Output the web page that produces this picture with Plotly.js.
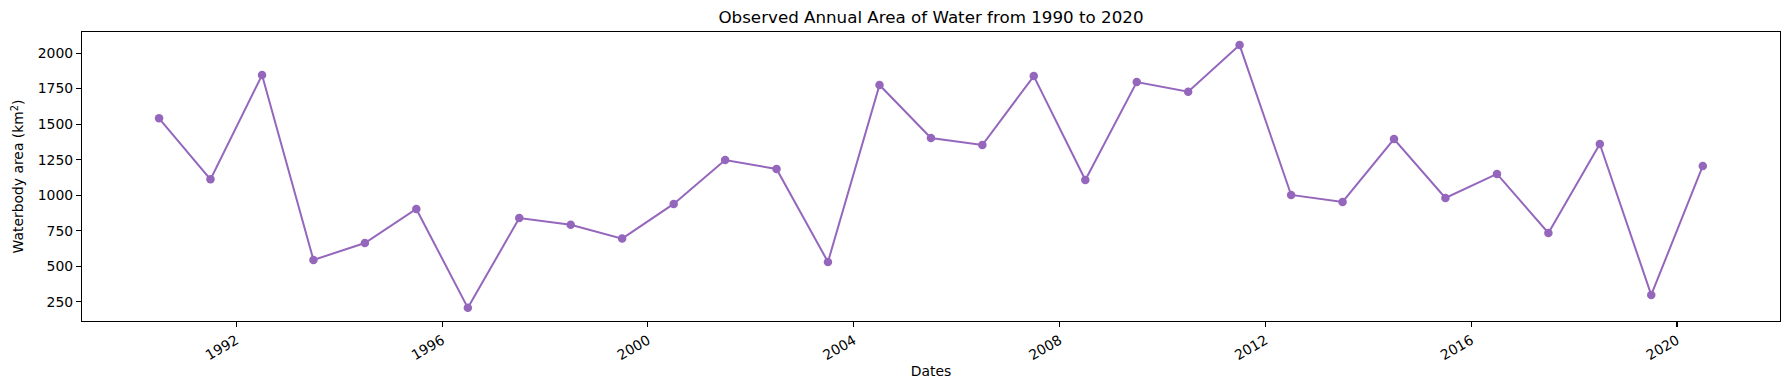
<!DOCTYPE html>
<html>
<head>
<meta charset="utf-8">
<script src="https://cdn.plot.ly/plotly-3.0.1.min.js"></script>
<style>
  html, body { margin: 0; padding: 0; background: #fff; }
  #chart { width: 1790px; height: 390px; }
</style>
</head>
<body>
<div id="chart"></div>
<script>
// Observation dates (mid-year) and observed water area (km²)
const dates = [
  "1990-07-02", "1991-07-02", "1992-07-02", "1993-07-02", "1994-07-02",
  "1995-07-02", "1996-07-02", "1997-07-02", "1998-07-02", "1999-07-02",
  "2000-07-02", "2001-07-02", "2002-07-02", "2003-07-02", "2004-07-02",
  "2005-07-02", "2006-07-02", "2007-07-02", "2008-07-02", "2009-07-02",
  "2010-07-02", "2011-07-02", "2012-07-02", "2013-07-02", "2014-07-02",
  "2015-07-02", "2016-07-02", "2017-07-02", "2018-07-02", "2019-07-02",
  "2020-07-02"
];
const waterArea = [
  1541, 1112, 1845, 545, 664,
  903, 208, 840, 793, 695,
  939, 1248, 1185, 531, 1775,
  1403, 1353, 1838, 1107, 1796,
  1728, 2056, 1002, 953, 1395,
  981, 1150, 735, 1360, 299,
  1206
];
const xTickVals = ["1992-01-01", "1996-01-01", "2000-01-01", "2004-01-01", "2008-01-01", "2012-01-01", "2016-01-01", "2020-01-01"];
const xTickText = ["1992", "1996", "2000", "2004", "2008", "2012", "2016", "2020"];
const yTickVals = [250, 500, 750, 1000, 1250, 1500, 1750, 2000];

const titleText = "Observed Annual Area of Water from 1990 to 2020";
const xTitle = "Dates";
const yTitle = "Waterbody area (km<sup>2</sup>)";

const font = "DejaVu Sans, sans-serif";

const trace = {
  x: dates,
  y: waterArea,
  type: "scatter",
  mode: "lines+markers",
  line: { color: "#9467bd", width: 2 },
  marker: { color: "#9467bd", size: 8.5 },
  hoverinfo: "x+y"
};

const layout = {
  width: 1790,
  height: 390,
  paper_bgcolor: "#ffffff",
  plot_bgcolor: "#ffffff",
  margin: { l: 82, r: 10, t: 32, b: 69 },
  showlegend: false,
  font: { family: font, size: 13.9, color: "#000" },
  title: {
    text: titleText,
    font: { family: font, size: 16.7, color: "#000" },
    x: 0.5, xref: "paper", xanchor: "center",
    y: 1 - 17 / 390, yref: "container", yanchor: "middle"
  },
  xaxis: {
    type: "date",
    range: ["1989-01-01", "2022-01-01"],
    tickmode: "array",
    tickvals: xTickVals,
    ticktext: xTickText,
    tickangle: -30,
    ticks: "outside",
    ticklen: 5,
    tickwidth: 1.1,
    tickcolor: "#000",
    showline: true,
    linecolor: "#000",
    linewidth: 1.1,
    mirror: true,
    showgrid: false,
    zeroline: false,
    tickfont: { family: font, size: 13.9, color: "#000" },
    title: { text: xTitle, font: { family: font, size: 13.9, color: "#000" }, standoff: 4 },
    automargin: false
  },
  yaxis: {
    range: [115.6, 2148],
    tickmode: "array",
    tickvals: yTickVals,
    ticks: "outside",
    ticklen: 5,
    tickwidth: 1.1,
    tickcolor: "#000",
    showline: true,
    linecolor: "#000",
    linewidth: 1.1,
    mirror: true,
    showgrid: false,
    zeroline: false,
    tickfont: { family: font, size: 13.9, color: "#000" },
    title: { text: yTitle, font: { family: font, size: 13.9, color: "#000" }, standoff: 10 },
    automargin: false
  }
};

Plotly.newPlot("chart", [trace], layout, { displayModeBar: false, staticPlot: true });
</script>
</body>
</html>
